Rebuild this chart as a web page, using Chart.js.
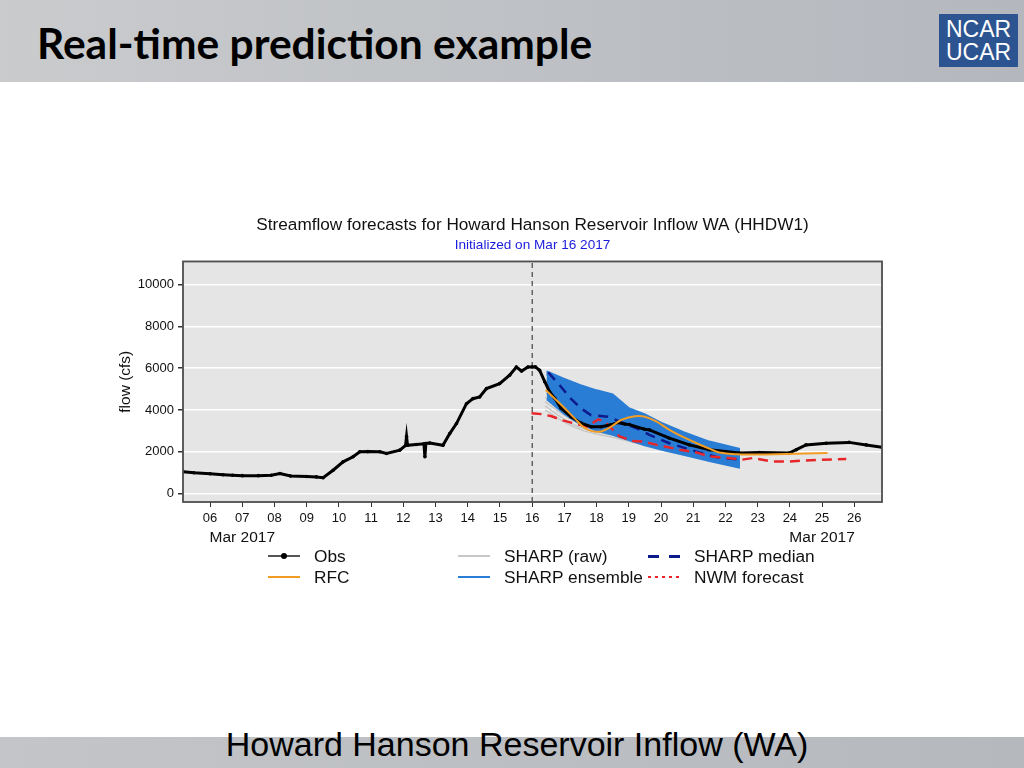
<!DOCTYPE html>
<html lang="en">
<head>
<meta charset="UTF-8">
<title>Real-time prediction example</title>
<script src="https://cdn.jsdelivr.net/npm/chart.js"></script>
<style>
  html, body { margin: 0; padding: 0; }
  body { width: 1024px; height: 768px; position: relative; overflow: hidden; background: #fff;
         font-family: "Liberation Sans", Arial, sans-serif; color: #111; }
  .header { position: absolute; left: 0; top: 0; width: 1024px; height: 82px;
            background: linear-gradient(to right, #c9cbcd, #b4b7bd); }
  .header h1 { position: absolute; left: 37px; top: 18px; margin: 0; font: 700 42.5px/50px Lato, sans-serif; color: #000; }
  .logo { position: absolute; left: 939px; top: 14px; width: 79px; height: 53px; background: #2c5491;
          color: #fff; text-align: center; font: 23px/23px "Liberation Sans", Arial, sans-serif; padding-top: 4px; box-sizing: border-box; }
  .chart-box { position: absolute; left: 100px; top: 205px; width: 865px; height: 347px; }
  .lg { position: absolute; font-size: 17.3px; line-height: 20px; display: flex; align-items: center; white-space: nowrap; }
  .sw { position: relative; width: 32px; height: 2px; margin-right: 14px; }
  .sw.obs { background: #555; }
  .sw.obs::after { content: ''; position: absolute; left: 13px; top: -2px; width: 6px; height: 6px; border-radius: 50%; background: #000; }
  .sw.rfc { background: #f39c24; }
  .sw.raw { background: #c8c8c8; }
  .sw.ens { background: #2a7dd4; }
  .sw.med { height: 3px; background: repeating-linear-gradient(to right, #0c1a8c 0 11px, transparent 11px 21px); }
  .sw.nwm { background: repeating-linear-gradient(to right, #e8262a 0 3px, transparent 3px 7px); }
  .footer { position: absolute; left: 0; top: 737px; width: 1024px; height: 31px;
            background: linear-gradient(to right, #c3c5c8, #b5b8bd); }
  .footer-text { position: absolute; left: 5px; top: 725px; width: 1024px; text-align: center;
                 font-size: 34px; line-height: 38px; color: #000; }
</style>
</head>
<body>
  <div class="header">
    <h1>Real-time prediction example</h1>
    <div class="logo">NCAR<br>UCAR</div>
  </div>

  <div class="chart-box"><canvas id="flow-chart"></canvas></div>

  <!-- legend -->
  <div class="lg" style="left:268px; top:546px;"><span class="sw obs"></span>Obs</div>
  <div class="lg" style="left:268px; top:567px;"><span class="sw rfc"></span>RFC</div>
  <div class="lg" style="left:458px; top:546px;"><span class="sw raw"></span>SHARP (raw)</div>
  <div class="lg" style="left:458px; top:567px;"><span class="sw ens"></span>SHARP ensemble</div>
  <div class="lg" style="left:648px; top:546px;"><span class="sw med"></span>SHARP median</div>
  <div class="lg" style="left:648px; top:567px;"><span class="sw nwm"></span>NWM forecast</div>

  <div class="footer"></div>
  <div class="footer-text">Howard Hanson Reservoir Inflow (WA)</div>

<script>
// axes
const dayTicks = [6, 7, 8, 9, 10, 11, 12, 13, 14, 15, 16, 17, 18, 19, 20, 21, 22, 23, 24, 25, 26];
const monthLabelDays = [7, 25];
const monthLabel = 'Mar 2017';
const flowTicks = [0, 2000, 4000, 6000, 8000, 10000];
const dayMin = 5.16, dayMax = 26.86;
const flowMin = -400, flowMax = 11100;
const initDay = 16;

// observed flow (day of March, cfs)
const obsDays = [5.16, 5.5, 6.0, 6.4, 6.7, 7.0, 7.5, 7.9, 8.17, 8.5, 9.0, 9.3, 9.51, 9.82, 10.13, 10.44, 10.65, 10.9,
  11.27, 11.48, 11.89, 12.07, 12.1, 12.13, 12.4, 12.64, 12.67, 12.7, 12.82, 13.23, 13.44, 13.65, 13.96, 14.16,
  14.37, 14.58, 14.99, 15.3, 15.51, 15.67, 15.87, 16.0, 16.1, 16.23, 16.39, 16.54, 16.7, 16.9, 17.2, 17.52, 17.83,
  18.14, 18.45, 18.65, 18.87, 19.02, 19.49, 19.64, 20.26, 20.88, 21.5, 22.0, 22.43, 23.05, 23.98, 24.2, 24.5,
  25.13, 25.84, 26.37, 26.86];
const obsFlow = [1050, 1000, 950, 905, 880, 860, 860, 880, 960, 840, 820, 800, 760, 1120, 1520, 1760, 2000, 2010,
  2000, 1920, 2080, 2300, 2730, 2310, 2350, 2380, 1760, 2400, 2420, 2310, 2870, 3350, 4300, 4540,
  4620, 5020, 5260, 5660, 6050, 5860, 6050, 6060, 6060, 5900, 5350, 4870, 4560, 4080, 3680, 3370, 3200,
  3200, 3290, 3400, 3330, 3300, 3080, 3050, 2650, 2330, 2100, 2010, 1940, 1970, 1940, 2100, 2330,
  2410, 2450, 2330, 2220];

// RFC forecast
const rfcDays = [16.42, 16.9, 17.32, 17.58, 17.83, 18.14, 18.45, 18.76, 19.18, 19.5, 19.85, 20.26, 20.7, 21.09,
  21.5, 21.81, 22.33, 23.0, 23.88, 24.5, 25.17];
const rfcFlow = [4950, 4250, 3600, 3200, 3000, 2970, 3200, 3520, 3700, 3680, 3450, 3050, 2700, 2420,
  2150, 1970, 1880, 1870, 1900, 1920, 1940];

// SHARP median
const medianDays = [16.5, 16.9, 17.2, 17.52, 17.83, 18.35, 18.87, 19.3, 19.64, 20.26, 20.7, 21.1, 21.72, 22.45];
const medianFlow = [5800, 5100, 4540, 4070, 3750, 3680, 3350, 3080, 2810, 2410, 2200, 2010, 1750, 1620];

// NWM forecast
const nwmDays = [15.98, 16.3, 16.6, 16.95, 17.32, 17.7, 18.05, 18.25, 18.7, 19.1, 19.44, 19.87, 20.58, 21.1,
  21.5, 22.1, 22.5, 22.84, 23.46, 24.0, 24.9, 25.75];
const nwmFlow = [3840, 3800, 3700, 3500, 3350, 3200, 3550, 3450, 2750, 2520, 2490, 2330, 2100, 1970,
  1780, 1700, 1620, 1700, 1540, 1540, 1620, 1650];

// SHARP raw members
const rawDays = [16.4, 16.8, 17.2, 17.6, 18.0, 18.5, 19.0, 20.0, 21.0, 22.45];
const rawMembers = [
  [4600, 4200, 3800, 3450, 3200, 3000, 2800, 2400, 2000, 1600],
  [4400, 3950, 3550, 3250, 3050, 2900, 2700, 2300, 1900, 1500],
  [4200, 3750, 3350, 3100, 2950, 2800, 2600, 2200, 1800, 1400],
  [4000, 3600, 3250, 3000, 2850, 2700, 2500, 2100, 1750, 1350]
];

// SHARP ensemble members
const ensDays = [16.45, 17.0, 17.5, 18.0, 18.5, 19.0, 19.5, 20.0, 20.7, 21.5, 22.45];
const ensMembers = [
  [5850, 5500, 5200, 4950, 4750, 4100, 3800, 3400, 2950, 2500, 2150],
  [5800, 5450, 5150, 4900, 4650, 4000, 3700, 3300, 2850, 2400, 2050],
  [5750, 5400, 5100, 4850, 4550, 3950, 3600, 3200, 2750, 2300, 1950],
  [5700, 5300, 5000, 4750, 4400, 3850, 3500, 3100, 2650, 2200, 1850],
  [5650, 5200, 4850, 4550, 4200, 3700, 3400, 3000, 2550, 2100, 1750],
  [5500, 5000, 4600, 4250, 3950, 3500, 3200, 2850, 2400, 2000, 1650],
  [5300, 4700, 4250, 3900, 3600, 3250, 2950, 2650, 2250, 1850, 1500],
  [5050, 4400, 3900, 3550, 3300, 3000, 2700, 2450, 2100, 1750, 1420],
  [4800, 4100, 3600, 3250, 3050, 2750, 2500, 2250, 1950, 1650, 1320],
  [4500, 3800, 3300, 3000, 2800, 2550, 2300, 2100, 1850, 1550, 1230]
];

const ensBlue = '#2a7dd4';
const pts = (xs, ys) => xs.map((x, i) => ({ x: x, y: ys[i] }));

// gray panel + dark frame around the plot
const plotFrame = {
  id: 'plotFrame',
  beforeDraw(chart) {
    const { ctx, chartArea: a } = chart;
    ctx.save();
    ctx.fillStyle = '#e5e5e5';
    ctx.fillRect(a.left, a.top, a.right - a.left, a.bottom - a.top);
    ctx.restore();
  },
  afterDraw(chart) {
    const { ctx, chartArea: a } = chart;
    ctx.save();
    ctx.strokeStyle = '#4d4d4d';
    ctx.lineWidth = 1.8;
    ctx.strokeRect(a.left, a.top, a.right - a.left, a.bottom - a.top);
    ctx.restore();
  }
};

// "Mar 2017" under the 07 and 25 ticks
const monthLabels = {
  id: 'monthLabels',
  afterDraw(chart) {
    const { ctx, chartArea: a, scales } = chart;
    ctx.save();
    ctx.font = '15.5px "Liberation Sans"';
    ctx.fillStyle = '#111';
    ctx.textAlign = 'center';
    ctx.textBaseline = 'middle';
    monthLabelDays.forEach(d => ctx.fillText(monthLabel, scales.x.getPixelForValue(d), a.bottom + 36));
    ctx.restore();
  }
};

const datasets = [
  { label: 'RFC', data: pts(rfcDays, rfcFlow), borderColor: '#f39c24', borderWidth: 2, tension: 0.4, order: 1 },
  { label: 'Obs', data: pts(obsDays, obsFlow), borderColor: '#000', borderWidth: 3,
    pointRadius: 1.8, pointBackgroundColor: '#000', pointBorderWidth: 0, order: 2 },
  { label: 'NWM forecast', data: pts(nwmDays, nwmFlow), borderColor: '#e8262a', borderWidth: 2.5,
    borderDash: [10, 6], order: 3 },
  { label: 'SHARP median', data: pts(medianDays, medianFlow), borderColor: '#0c1a8c', borderWidth: 2.5,
    borderDash: [10, 7], order: 4 },
  { label: 'init', data: [{ x: initDay, y: flowMin }, { x: initDay, y: flowMax }], borderColor: '#222',
    borderWidth: 1, borderDash: [5, 4], order: 8 }
];
const firstEns = datasets.length;
ensMembers.forEach((m, i) => {
  datasets.push({
    label: 'SHARP ensemble', data: pts(ensDays, m), borderColor: ensBlue, borderWidth: 1.5,
    backgroundColor: ensBlue, fill: i === ensMembers.length - 1 ? { target: firstEns } : false, order: 6
  });
});
rawMembers.forEach(m => {
  datasets.push({ label: 'SHARP (raw)', data: pts(rawDays, m), borderColor: '#c8c8c8', borderWidth: 1.5, order: 7 });
});

new Chart(document.getElementById('flow-chart'), {
  type: 'line',
  data: { datasets: datasets },
  plugins: [plotFrame, monthLabels],
  options: {
    responsive: true,
    maintainAspectRatio: false,
    animation: false,
    elements: { point: { radius: 0 }, line: { fill: false } },
    layout: { padding: { left: 0, right: 83, top: 0, bottom: 2 } },
    plugins: {
      legend: { display: false },
      tooltip: { enabled: false },
      title: {
        display: true,
        fullSize: false,
        text: 'Streamflow forecasts for Howard Hanson Reservoir Inflow WA (HHDW1)',
        color: '#111',
        font: { family: 'Liberation Sans', size: 17.2, weight: 'normal' },
        padding: { top: 9.5, bottom: 2 }
      },
      subtitle: {
        display: true,
        fullSize: false,
        text: 'Initialized on Mar 16 2017',
        color: '#1c1cdc',
        font: { family: 'Liberation Sans', size: 13.6 },
        padding: { top: 0, bottom: 8 }
      }
    },
    scales: {
      x: {
        type: 'linear',
        min: dayMin,
        max: dayMax,
        afterBuildTicks: s => { s.ticks = dayTicks.map(v => ({ value: v })); },
        afterFit: s => { s.height = 48; },
        ticks: {
          autoSkip: false,
          maxRotation: 0,
          minRotation: 0,
          padding: 4,
          color: '#111',
          font: { family: 'Liberation Sans', size: 13 },
          callback: v => String(v).padStart(2, '0')
        },
        grid: { drawOnChartArea: false, drawTicks: true, tickLength: 5, tickColor: '#333' },
        border: { display: false }
      },
      y: {
        min: flowMin,
        max: flowMax,
        afterBuildTicks: s => { s.ticks = flowTicks.map(v => ({ value: v })); },
        afterFit: s => { s.width = 83; },
        ticks: {
          padding: 4,
          color: '#111',
          font: { family: 'Liberation Sans', size: 13 },
          callback: v => String(v)
        },
        grid: { color: '#fff', lineWidth: 1.5, tickColor: '#333', tickLength: 5 },
        border: { display: false },
        title: {
          display: true,
          text: 'flow (cfs)',
          color: '#111',
          font: { family: 'Liberation Sans', size: 15.5 },
          padding: { top: 16, bottom: 0 }
        }
      }
    }
  }
});
</script>
</body>
</html>
